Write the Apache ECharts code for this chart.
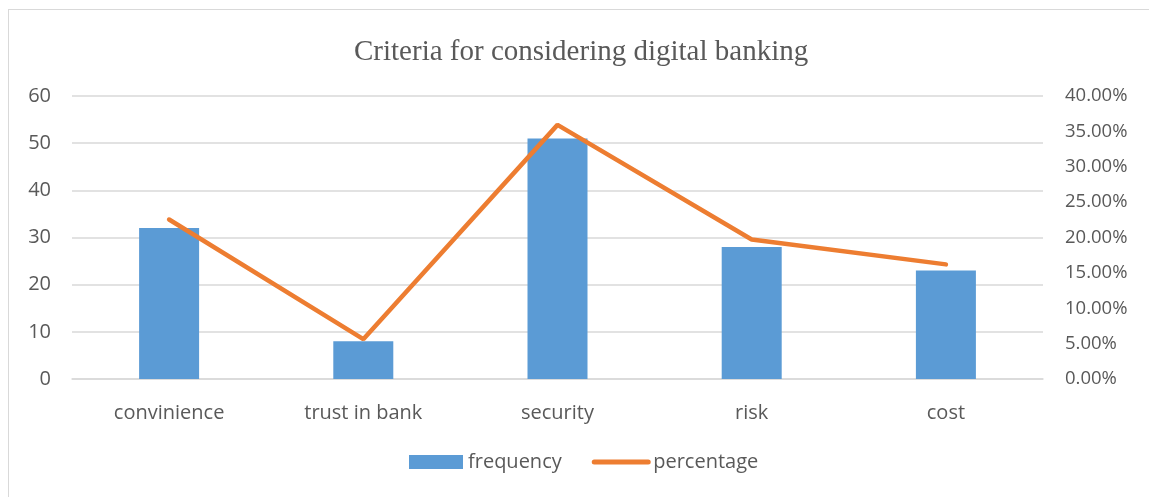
<!DOCTYPE html>
<html>
<head>
<meta charset="utf-8">
<script src="https://cdn.jsdelivr.net/npm/echarts@6/dist/echarts.min.js"></script>
<style>
  html, body { margin: 0; padding: 0; background: #fff; }
  #frame { position: absolute; left: 8px; top: 9px; width: 1160px; height: 520px; border: 1px solid #d9d9d9; }
  #chart { position: absolute; left: 0; top: 0; width: 1149px; height: 497px; }
</style>
</head>
<body>
<div id="frame"></div>
<div id="chart"></div>
<script>
// 数据
const categories = ['convinience', 'trust in bank', 'security', 'risk', 'cost'];
const frequency = [32, 8, 51, 28, 23];
const percentage = [22.54, 5.63, 35.92, 19.72, 16.20];

window.addEventListener('DOMContentLoaded', function() {
    const myChart = echarts.init(document.getElementById('chart'));
    const labelFont = { color: '#595959', fontSize: 20, fontFamily: 'Open Sans' };

    const option = {
        animation: false,
        title: {
            text: 'Criteria for considering digital banking',
            left: 349,
            top: 33,
            textStyle: { fontFamily: 'Liberation Serif', fontWeight: 'normal', fontSize: 29, color: '#595959' }
        },
        legend: {
            bottom: 20,
            left: 404,
            itemGap: 30,
            itemWidth: 54,
            itemHeight: 14,
            textStyle: labelFont,
            data: [
                { name: 'frequency', icon: 'rect' },
                { name: 'percentage', itemStyle: { opacity: 0 }, lineStyle: { width: 5, cap: 'round' } }
            ]
        },
        grid: { left: 72, right: 106, top: 96, bottom: 118 },
        xAxis: {
            type: 'category',
            data: categories,
            axisLine: { lineStyle: { color: '#d9d9d9', width: 1.5 } },
            axisTick: { show: false },
            axisLabel: Object.assign({}, labelFont, { margin: 24 })
        },
        yAxis: [
            {
                type: 'value', min: 0, max: 60, interval: 10,
                axisLabel: Object.assign({}, labelFont, { margin: 21 }),
                splitLine: { lineStyle: { color: '#d9d9d9', width: 1.5 } }
            },
            {
                type: 'value', min: 0, max: 40, interval: 5,
                axisLabel: Object.assign({}, labelFont, { margin: 22, fontSize: 18.5, formatter: v => v.toFixed(2) + '%' }),
                splitLine: { show: false }
            }
        ],
        series: [
            {
                name: 'frequency',
                type: 'bar',
                data: frequency,
                barWidth: 60,
                itemStyle: { color: '#5B9BD5' }
            },
            {
                name: 'percentage',
                type: 'line',
                yAxisIndex: 1,
                data: percentage,
                symbol: 'none',
                lineStyle: { color: '#ED7D31', width: 4.5, cap: 'round' },
                itemStyle: { color: '#ED7D31' }
            }
        ]
    };

    myChart.setOption(option);
});
</script>
</body>
</html>
